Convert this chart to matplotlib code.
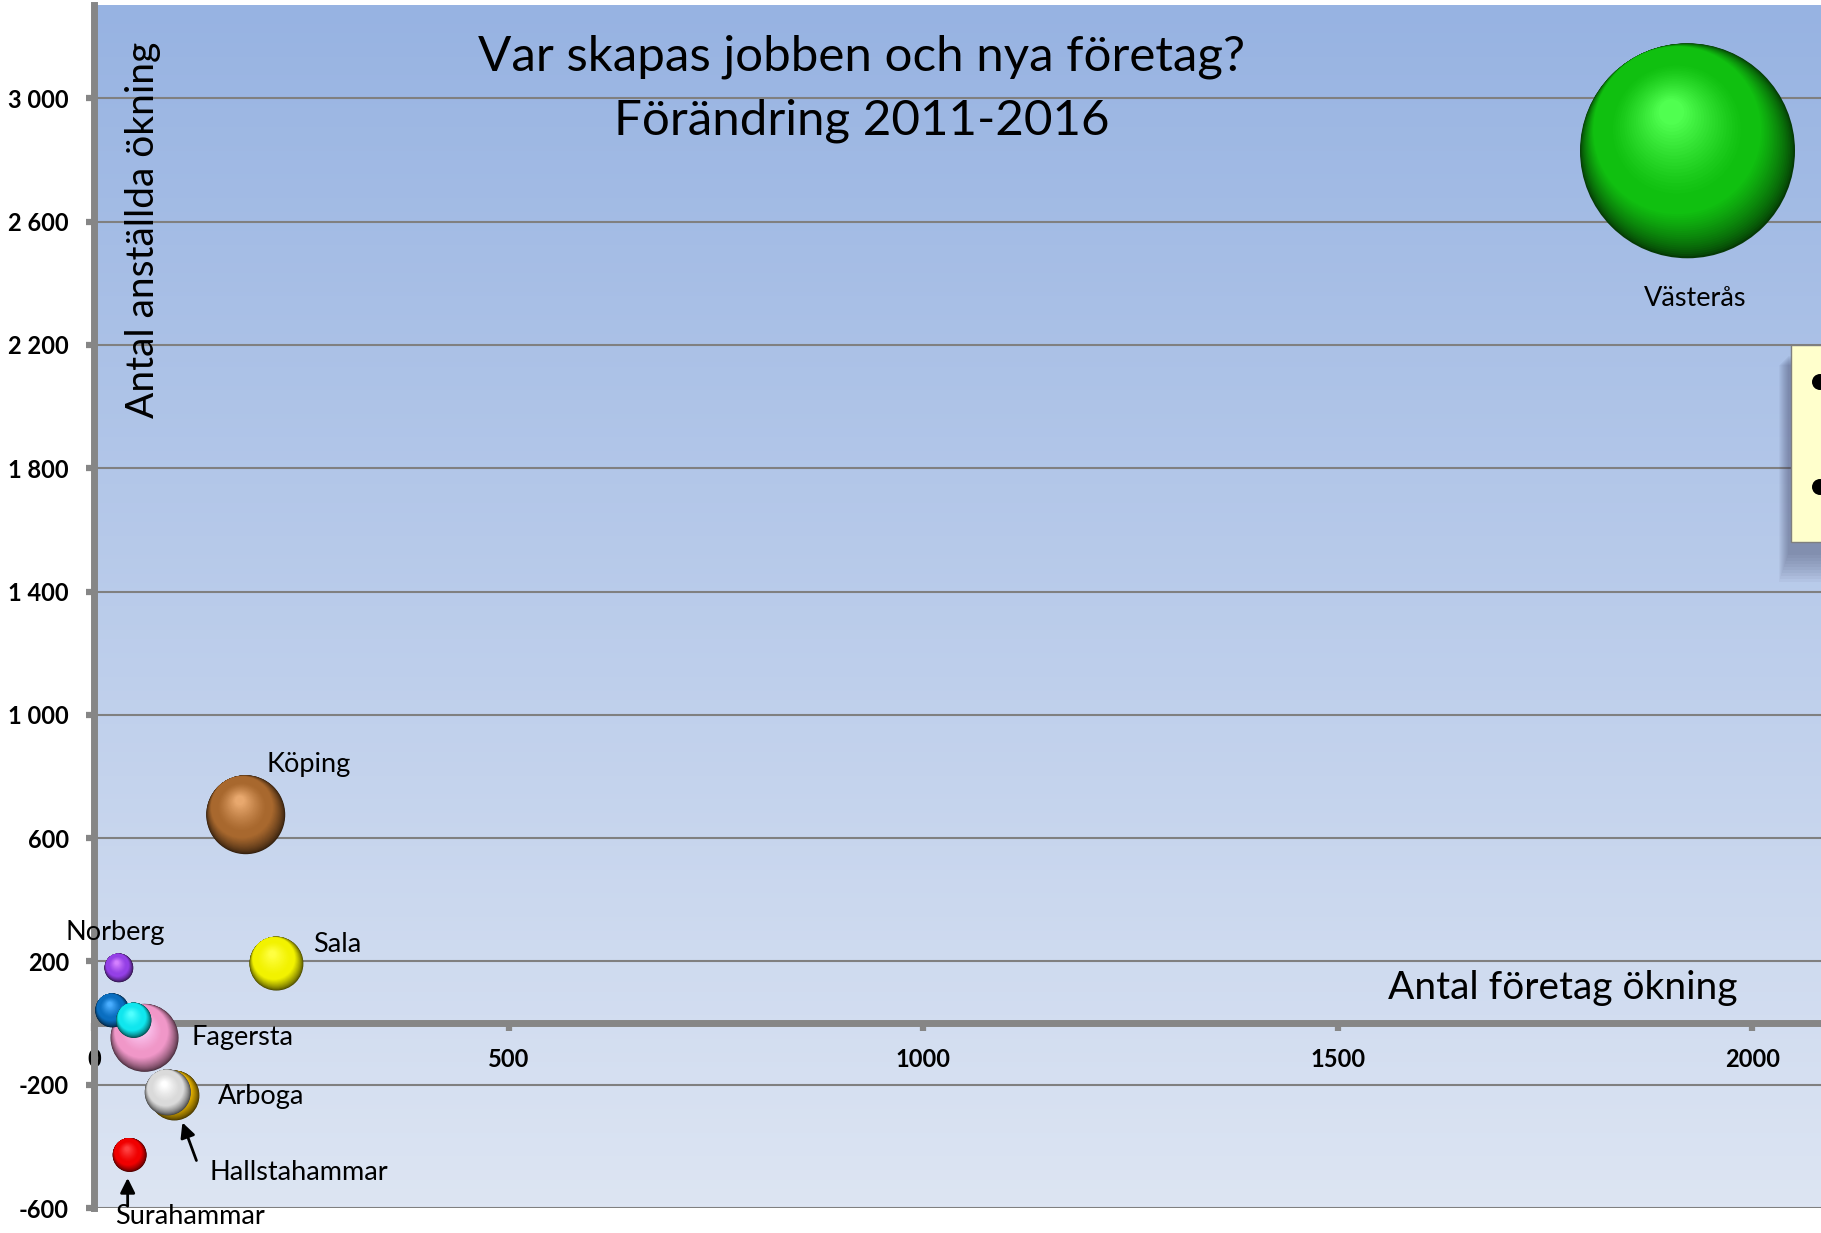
# Bubbeldiagram: var skapas jobben och nya företag, förändring 2011-2016
import numpy as np
import matplotlib
matplotlib.use('Agg')
import matplotlib.pyplot as plt
import matplotlib.colors as mcolors
from matplotlib.transforms import offset_copy
from matplotlib.patches import Rectangle, Ellipse

plt.rcParams['font.family'] = ['Lato', 'DejaVu Sans']

# Data
kommuner = ['Västerås', 'Köping', 'Sala', 'Fagersta', 'Skinnskatteberg',
            'Kungsör', 'Norberg', 'Hallstahammar', 'Arboga', 'Surahammar']
foretag_okning = [1922, 183, 220, 61, 22, 48, 30, 97, 89, 43]
anstallda_okning = [2830, 676, 193, -48, 41, 9, 179, -235, -225, -428]
storlek = [1000, 135, 63, 100, 25, 27, 18, 54, 46, 25]
farger = ['#10C010', '#A8682E', '#F2F200', '#F097C8', '#0A6EC0',
          '#10E6EE', '#9440E6', '#E2B000', '#DADADA', '#F00000']
etiketter = ['Västerås', 'Köping', 'Sala', 'Fagersta', '',
             '', 'Norberg', 'Hallstahammar', 'Arboga', 'Surahammar']

x_ticks = [0, 500, 1000, 1500, 2000]
y_ticks = [-600, -200, 200, 600, 1000, 1400, 1800, 2200, 2600, 3000]
y_ticklabels = ['-600', '-200', '200', '600', '1 000', '1 400', '1 800',
                '2 200', '2 600', '3 000']

titel_1 = 'Var skapas jobben och nya företag?'
titel_2 = 'Förändring 2011-2016'
x_titel = 'Antal företag ökning'
y_titel = 'Antal anställda ökning'

# layout (pixlar)
W, H, DPI = 1821, 1233, 100
R_MAX = 107.5  # radie för största bubblan
GRID = '#808080'
AXEL = '#868686'

# etikettplacering relativt bubblans centrum (pixlar, y uppåt)
etikett_offset = {
    'Västerås': (8, -148), 'Köping': (63, 50), 'Sala': (61, 19),
    'Fagersta': (98, 0), 'Norberg': (-4, 35), 'Hallstahammar': (124, -77),
    'Arboga': (93, -4), 'Surahammar': (60, -62),
}
# pilar: (svans, huvud) relativt bubblans centrum
pilar = {
    'Hallstahammar': ((22, -65), (8, -27)),
    'Surahammar': ((-2, -51), (-2, -23)),
}

fig = plt.figure(figsize=(W / DPI, H / DPI), dpi=DPI, facecolor='white')
ax_l, ax_b, ax_t = 94, 25, 5
ax = fig.add_axes([ax_l / W, ax_b / H, 1 - ax_l / W, (H - ax_b - ax_t) / H])

# bakgrund med gradient
grad = np.linspace(0, 1, 256)[:, None]
top = np.array(mcolors.to_rgb('#97B3E2'))
bot = np.array(mcolors.to_rgb('#DDE5F3'))
img = top[None, None, :] * (1 - grad[:, :, None]) + bot[None, None, :] * grad[:, :, None]
ax.imshow(img, extent=(0, 1, 0, 1), transform=ax.transAxes, aspect='auto', zorder=0)

ax.set_xlim(0, 2083)
ax.set_ylim(-600, 3303)

ax.set_xticks(x_ticks)
ax.set_xticklabels([str(v) for v in x_ticks])
ax.set_yticks(y_ticks)
ax.set_yticklabels(y_ticklabels)
ax.grid(axis='y', color=GRID, lw=1.5)
ax.set_axisbelow(True)

for s in ['top', 'right']:
    ax.spines[s].set_visible(False)
ax.spines['bottom'].set_position(('data', 0))
for s in ['left', 'bottom']:
    ax.spines[s].set_color(AXEL)
    ax.spines[s].set_linewidth(5)
ax.tick_params(axis='both', direction='out', color=AXEL, width=4.5, length=6)
ax.tick_params(axis='y', pad=12, labelsize=17)
ax.tick_params(axis='x', pad=12, labelsize=17)
for lab in ax.get_xticklabels() + ax.get_yticklabels():
    lab.set_fontweight('bold')


def lager(x, y, rk, dx, dy, c, z):
    tr = offset_copy(ax.transData, fig=fig, x=dx, y=dy, units='dots')
    ax.scatter([x], [y], s=(2 * rk * 72 / DPI) ** 2, color=np.clip(c, 0, 1),
               edgecolors='none', transform=tr, zorder=z)


def sfar(x, y, r, farg, z, n=22):
    # 3D-liknande kula: mörk kant nere till höger, ljus reflex uppe till vänster
    base = np.array(mcolors.to_rgb(farg))
    dark = base * 0.3
    light = np.clip(base * 1.25 + 0.25 * (1 - base), 0, 1)
    u = np.array([-0.45, 0.89])
    # kant: cirklar som krymper mot övre vänstra kanten
    for k in range(n):
        t = k / (n - 1)
        rk = r * (1 - 0.22 * t)
        d = u * (r - rk) * 0.97
        c = dark + (base - dark) * t ** 0.7
        lager(x, y, rk, d[0], d[1], c, z)
    # reflex
    hx, hy = -0.15 * r, 0.36 * r
    for k in range(n):
        t = k / (n - 1)
        rk = r * (0.62 - 0.5 * t)
        d0 = u * 0.22 * r * 0.97
        dx = d0[0] + (hx - d0[0]) * t
        dy = d0[1] + (hy - d0[1]) * t
        c = base + (light - base) * t ** 1.2
        lager(x, y, rk, dx, dy, c, z)


for i, namn in enumerate(kommuner):
    r = R_MAX * np.sqrt(storlek[i] / max(storlek))
    sfar(foretag_okning[i], anstallda_okning[i], r, farger[i], 3 + i)

for i, namn in enumerate(kommuner):
    if not etiketter[i]:
        continue
    dx, dy = etikett_offset[namn]
    ax.annotate(etiketter[i], xy=(foretag_okning[i], anstallda_okning[i]),
                xytext=(dx, dy), textcoords='offset pixels', ha='center',
                va='center', fontsize=19.5, color='black', zorder=20,
                annotation_clip=False)
    if namn in pilar:
        (tx, ty), (hx, hy) = pilar[namn]
        p0 = offset_copy(ax.transData, fig=fig, x=tx, y=ty, units='dots')
        p1 = offset_copy(ax.transData, fig=fig, x=hx, y=hy, units='dots')
        pt = (foretag_okning[i], anstallda_okning[i])
        ax.annotate('', xy=pt, xycoords=p1, xytext=pt, textcoords=p0,
                    arrowprops=dict(arrowstyle='-|>', color='black', lw=2,
                                    mutation_scale=22, shrinkA=0, shrinkB=0),
                    zorder=20, annotation_clip=False)

# titlar
fig.text(861 / W, 1 - 57 / H, titel_1, ha='center', va='center', fontsize=35.5)
fig.text(862 / W, 1 - 121 / H, titel_2, ha='center', va='center', fontsize=35.5)
ax.text((1563 - ax_l) / (W - ax_l), (1208 - 988) / 1203, x_titel,
        transform=ax.transAxes, ha='center', va='center', fontsize=28, zorder=20)
ax.text((143 - ax_l) / (W - ax_l), (1208 - 230) / 1203, y_titel,
        transform=ax.transAxes, ha='center', va='center', rotation=90,
        fontsize=28, zorder=20)

# avklippt textruta till höger med skugga
bx, by0, by1 = 1791, 345, 542
for k in range(10):
    fig.patches.append(Rectangle(((bx - 12 + k) / W, (H - by1 - 40 + 3 * k) / H),
                                 0.1, (by1 - by0 + 20 - 2 * k) / H,
                                 transform=fig.transFigure, facecolor='#303050',
                                 alpha=0.045, edgecolor='none', zorder=30))
fig.patches.append(Rectangle((bx / W, (H - by1) / H), 0.1, (by1 - by0) / H,
                             transform=fig.transFigure, facecolor='#FFFFCC',
                             edgecolor='#7F7F7F', lw=1, zorder=31))
for yb in [382, 487]:
    fig.patches.append(Ellipse((1820 / W, 1 - yb / H), 16 / W, 16 / H,
                               transform=fig.transFigure, facecolor='black',
                               edgecolor='none', zorder=32))

fig.savefig('out.png', dpi=DPI)
